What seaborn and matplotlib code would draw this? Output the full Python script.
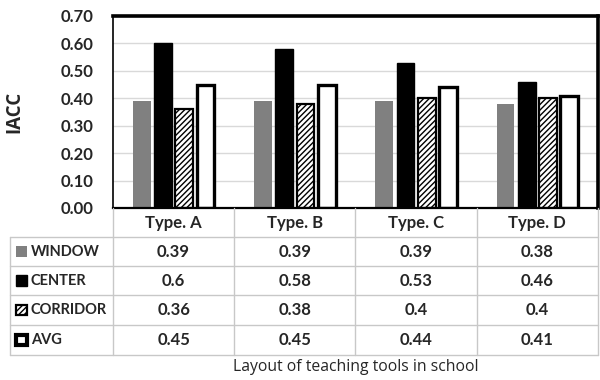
import matplotlib
matplotlib.use("Agg")
import matplotlib.pyplot as plt
import seaborn as sns
import pandas as pd
from matplotlib.patches import Rectangle
from matplotlib.lines import Line2D

# Data
categories = ["Type. A", "Type. B", "Type. C", "Type. D"]
series = ["WINDOW", "CENTER", "CORRIDOR", "AVG"]
window = [0.39, 0.39, 0.39, 0.38]
center = [0.60, 0.58, 0.53, 0.46]
corridor = [0.36, 0.38, 0.40, 0.40]
avg = [0.45, 0.45, 0.44, 0.41]
value_text = {
    "WINDOW": ["0.39", "0.39", "0.39", "0.38"],
    "CENTER": ["0.6", "0.58", "0.53", "0.46"],
    "CORRIDOR": ["0.36", "0.38", "0.4", "0.4"],
    "AVG": ["0.45", "0.45", "0.44", "0.41"],
}
y_ticks = [0.0, 0.1, 0.2, 0.3, 0.4, 0.5, 0.6, 0.7]

values = {"WINDOW": window, "CENTER": center, "CORRIDOR": corridor, "AVG": avg}
df = pd.DataFrame(
    [(c, s, values[s][i]) for s in series for i, c in enumerate(categories)],
    columns=["layout", "series", "iacc"],
)

sns.set_theme(style="white")
plt.rcParams["font.family"] = ["Lato", "DejaVu Sans"]
label_font = ["Open Sans", "DejaVu Sans"]

W, H = 600, 380
fig = plt.figure(figsize=(6, 3.8), dpi=100)

ax_left, ax_right, ax_top, ax_bottom = 113, 598, 16, 208
ax = fig.add_axes([ax_left / W, 1 - ax_bottom / H,
                   (ax_right - ax_left) / W, (ax_bottom - ax_top) / H])

fill = {"WINDOW": "#808080", "CENTER": "#000000", "CORRIDOR": "#ffffff", "AVG": "#ffffff"}
sns.barplot(data=df, x="layout", y="iacc", hue="series", order=categories,
            hue_order=series, palette=fill, width=0.70, gap=0.16,
            legend=False, ax=ax, errorbar=None, saturation=1)

plt.rcParams["hatch.linewidth"] = 1.0
styles = {
    "WINDOW": dict(edgecolor="none", linewidth=0, hatch=None),
    "CENTER": dict(edgecolor="#000000", linewidth=1, hatch=None),
    "CORRIDOR": dict(edgecolor="#000000", linewidth=1.6, hatch="//////"),
    "AVG": dict(edgecolor="#000000", linewidth=2.4, hatch=None),
}
for container, s in zip(ax.containers, series):
    for bar in container:
        bar.set_edgecolor(styles[s]["edgecolor"])
        bar.set_linewidth(styles[s]["linewidth"])
        if styles[s]["hatch"]:
            bar.set_hatch(styles[s]["hatch"])

txt_c = "#262626"
fs = 12
row_fs = 10.5

ax.set_xlim(-0.5, 3.5)
ax.set_ylim(0, 0.70)
ax.set_yticks(y_ticks)
ax.set_yticklabels([f"{v:.2f}" for v in y_ticks], fontsize=fs,
                   fontweight="bold", color=txt_c)
ax.set_xticks([])
ax.set_xlabel("")
ax.set_ylabel("IACC", fontsize=13.5, fontweight="bold", color=txt_c,
              labelpad=26, family=label_font)
ax.tick_params(axis="y", length=0, pad=14)
ax.yaxis.grid(True, color="#d9d9d9", linewidth=1)
ax.set_axisbelow(True)
ax.spines["top"].set_linewidth(2.6)
ax.spines["right"].set_linewidth(2.6)
ax.spines["left"].set_linewidth(1.2)
ax.spines["bottom"].set_linewidth(1.6)
for sp in ax.spines.values():
    sp.set_color("#000000")

# Data table below the axes
tbl_left, tbl_bottom = 10, 355
unit = (ax_right - ax_left) / 4.0
x0 = -0.5 - (ax_left - tbl_left) / unit
tax = fig.add_axes([tbl_left / W, 1 - tbl_bottom / H,
                    (ax_right - tbl_left) / W, (tbl_bottom - ax_bottom) / H])
tax.set_xlim(x0, 3.5)
tax.set_ylim(5, 0)
tax.axis("off")

grid_c = "#c8c8c8"
row_edges = [0, 0.98, 1.98, 2.97, 3.98, 5]
# horizontal rules
for r in row_edges[1:]:
    tax.add_line(Line2D([x0, 3.5], [r, r], color=grid_c, lw=1, clip_on=False))
# vertical rules
for c in [-0.5, 0.5, 1.5, 2.5, 3.5]:
    tax.add_line(Line2D([c, c], [0, 5], color=grid_c, lw=1, clip_on=False))
tax.add_line(Line2D([x0, x0], [row_edges[1], 5], color=grid_c, lw=1, clip_on=False))

for i, c in enumerate(categories):
    tax.text(i, 0.5, c, ha="center", va="center", fontsize=fs,
             fontweight="bold", color=txt_c)

key_w = 11 / unit
for j, s in enumerate(series):
    yc = (row_edges[j + 1] + row_edges[j + 2]) / 2
    for i in range(4):
        tax.text(i, yc, value_text[s][i], ha="center", va="center",
                 fontsize=fs, fontweight="bold", color=txt_c)
    kx = x0 + 6 / unit
    kh = 0.36
    st = styles[s]
    tax.add_patch(Rectangle((kx, yc - kh / 2), key_w, kh,
                            facecolor=fill[s], edgecolor=st["edgecolor"],
                            linewidth=st["linewidth"] + (0.6 if s == "AVG" else 0),
                            hatch=st["hatch"], clip_on=False))
    tax.text(x0 + 21 / unit, yc, s, ha="left", va="center", fontsize=row_fs,
             fontweight="bold", color=txt_c)

fig.text((ax_left + ax_right) / 2 / W, 1 - 367 / H,
         "Layout of teaching tools in school", ha="center", va="center",
         fontsize=11.3, color=txt_c, family=label_font)

fig.savefig("out.png", dpi=100)
